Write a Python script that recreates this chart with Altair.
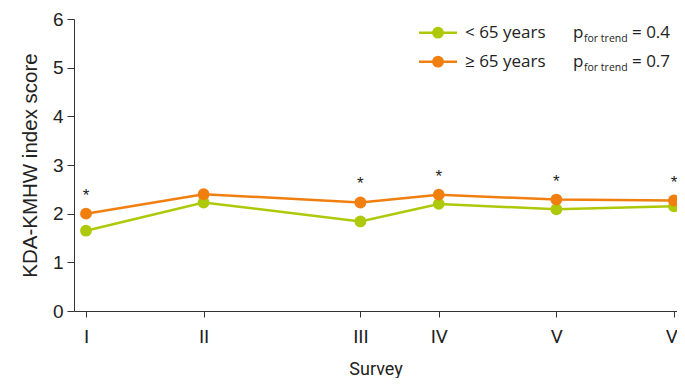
import altair as alt
import pandas as pd

# ---- data ----
survey_year = [1998, 2001, 2005, 2007, 2010, 2013]
survey_label = ["I", "II", "III", "IV", "V", "VI"]
under65 = [1.65, 2.23, 1.84, 2.20, 2.09, 2.15]
over65 = [2.00, 2.40, 2.23, 2.39, 2.29, 2.27]
significant = [True, False, True, True, True, True]
groups = ["< 65 years", "≥ 65 years"]
p_trend = ["0.4", "0.7"]
colors = ["#AEC90A", "#F07F10"]

rows = []
for i, yr in enumerate(survey_year):
    rows.append({"year": yr, "group": groups[0], "score": under65[i]})
    rows.append({"year": yr, "group": groups[1], "score": over65[i]})
df = pd.DataFrame(rows)
star_df = pd.DataFrame({
    "year": [y for y, s in zip(survey_year, significant) if s],
    "score": [v for v, s in zip(over65, significant) if s],
    "txt": ["*" for s in significant if s],
})

label_expr = " : ".join(
    f"datum.value == {y} ? '{r}'" for y, r in zip(survey_year, survey_label)
) + " : ''"

W, H = 603, 292
xscale = alt.Scale(domain=[1997.694, 2013.077], nice=False, zero=False)
yscale = alt.Scale(domain=[0, 6], nice=False)
cscale = alt.Scale(domain=groups, range=colors)

x_axis = alt.Axis(
    values=survey_year, labelExpr=label_expr, title="Survey", grid=False,
    tickSize=6, labelPadding=10, labelFont="Roboto",
    labelFontSize=19, labelColor="#222", titleFont="Roboto",
    titleFontSize=18, titleFontWeight="normal", titleColor="#222",
    titlePadding=14, domainColor="#333", tickColor="#333",
)
y_axis = alt.Axis(
    values=[0, 1, 2, 3, 4, 5, 6], title="KDA-KMHW index score", grid=False,
    tickSize=7, labelPadding=4, labelFont="Liberation Sans", labelFontSize=19,
    labelColor="#222", titleFont="Liberation Sans", titleFontSize=20.5,
    titleFontWeight="normal", titleColor="#222", titlePadding=12,
    domainColor="#333", tickColor="#333",
)

base = alt.Chart(df)
lines = base.mark_line(strokeWidth=2.5, clip=True).encode(
    x=alt.X("year:Q", scale=xscale, axis=x_axis),
    y=alt.Y("score:Q", scale=yscale, axis=y_axis),
    color=alt.Color("group:N", scale=cscale, legend=None),
)
points = base.mark_point(filled=True, size=140, opacity=1, clip=True).encode(
    x=alt.X("year:Q", scale=xscale),
    y=alt.Y("score:Q", scale=yscale),
    color=alt.Color("group:N", scale=cscale, legend=None),
)
stars = alt.Chart(star_df).mark_text(
    dy=-18, fontSize=17, font="Liberation Sans", color="#222", baseline="middle"
).encode(
    x=alt.X("year:Q", scale=xscale),
    y=alt.Y("score:Q", scale=yscale),
    text="txt:N",
)

# ---- manual legend ----
one = pd.DataFrame({"k": [0]})
legend_layers = []
row_y = [13.7, 42.7]
for i in range(2):
    cy = row_y[i]
    base_y = cy + 5
    legend_layers.append(
        alt.Chart(one).mark_rule(color=colors[i], strokeWidth=2.5).encode(
            x=alt.value(345), x2=alt.value(383), y=alt.value(cy))
    )
    legend_layers.append(
        alt.Chart(one).mark_point(filled=True, size=140, opacity=1, color=colors[i]).encode(
            x=alt.value(364), y=alt.value(cy))
    )
    legend_layers.append(
        alt.Chart(one).mark_text(align="left", baseline="alphabetic", fontSize=17,
                                 font="Open Sans", color="#222", text=groups[i]).encode(
            x=alt.value(391), y=alt.value(base_y))
    )
    legend_layers.append(
        alt.Chart(one).mark_text(align="left", baseline="alphabetic", fontSize=17,
                                 font="Open Sans", color="#222", text="p").encode(
            x=alt.value(499), y=alt.value(base_y))
    )
    legend_layers.append(
        alt.Chart(one).mark_text(align="left", baseline="alphabetic", fontSize=10.5,
                                 font="Open Sans", color="#222", text="for trend").encode(
            x=alt.value(510), y=alt.value(base_y + 4))
    )
    legend_layers.append(
        alt.Chart(one).mark_text(align="left", baseline="alphabetic", fontSize=17,
                                 font="Open Sans", color="#222", text="= " + p_trend[i]).encode(
            x=alt.value(558), y=alt.value(base_y))
    )

chart = alt.layer(lines, points, stars, *legend_layers).properties(
    width=W, height=H,
    autosize=alt.AutoSizeParams(type="none"),
    padding={"left": 66, "top": 11, "right": 0, "bottom": 67},
).configure_view(stroke=None)

chart.save("out.html", embed_options={"renderer": "svg", "actions": False})
